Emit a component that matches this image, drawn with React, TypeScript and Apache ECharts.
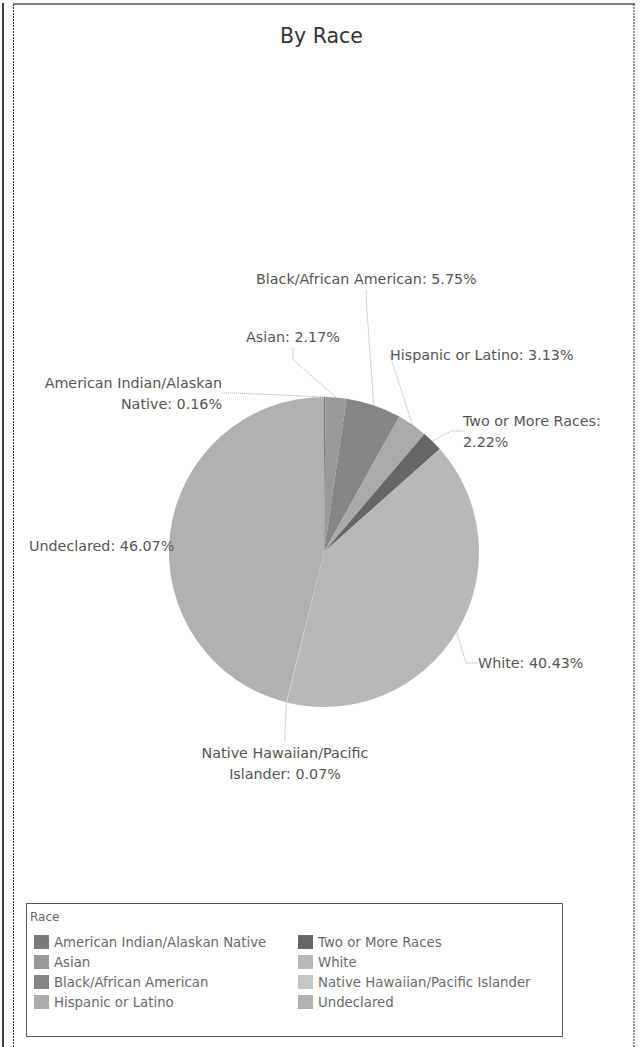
import React, { useEffect, useRef } from "react";
import * as echarts from "echarts";

const categories = [
  "American Indian/Alaskan Native",
  "Asian",
  "Black/African American",
  "Hispanic or Latino",
  "Two or More Races",
  "White",
  "Native Hawaiian/Pacific Islander",
  "Undeclared",
];
const shares = [0.16, 2.17, 5.75, 3.13, 2.22, 40.43, 0.07, 46.07];
const sliceColors = ["#7a7a7a", "#999999", "#858585", "#aaaaaa", "#666666", "#b8b8b8", "#c6c6c6", "#b1b1b1"];
const wrappedNames: Record<string, string> = {
  "American Indian/Alaskan Native": "American Indian/Alaskan\nNative",
  "Two or More Races": "Two or More Races:\n",
  "Native Hawaiian/Pacific Islander": "Native Hawaiian/Pacific\nIslander",
};
const legendCol1 = categories.slice(0, 4);
const legendCol2 = categories.slice(4);

// label placement (layout only)
const labelSpots = [
  { x: 222, y: 393, align: "right" },
  { x: 293, y: 337, align: "center" },
  { x: 256, y: 279, align: "left" },
  { x: 390, y: 355, align: "left" },
  { x: 463, y: 431, align: "left" },
  { x: 478, y: 663, align: "left" },
  { x: 285, y: 763, align: "center" },
  { x: 23, y: 546, align: "left" },
];

const FONT = "'DejaVu Sans', 'Noto Sans', sans-serif";

export default function App() {
  const ref = useRef<HTMLDivElement>(null);
  useEffect(() => {
    document.body.style.margin = "0";
    const chart = echarts.init(ref.current!, null, { renderer: "svg" });
    const data = categories.map((name, i) => {
      const item: any = { name, value: shares[i], itemStyle: { color: sliceColors[i] } };
      if (name === "Undeclared") {
        item.label = { backgroundColor: "#ffffff", padding: [11, 11, 11, 6] };
        item.labelLine = { show: false };
      }
      return item;
    });
    const legendBase = {
      orient: "vertical",
      top: 935,
      padding: 0,
      itemGap: 6,
      itemWidth: 15,
      itemHeight: 14,
      icon: "rect",
      selectedMode: false,
      textStyle: { fontFamily: FONT, fontSize: 13.3, color: "#6a6a6a" },
    };
    chart.setOption({
      animation: false,
      backgroundColor: "#ffffff",
      title: {
        text: "By Race",
        left: "center",
        top: 20,
        textStyle: { fontFamily: FONT, fontSize: 20.5, fontWeight: "normal", color: "#333333" },
      },
      legend: [
        { ...legendBase, data: legendCol1, left: 34 },
        { ...legendBase, data: legendCol2, left: 298 },
      ],
      graphic: [
        { type: "line", shape: { x1: 3, y1: 3, x2: 3, y2: 1047 }, style: { stroke: "#000", lineWidth: 1.5 } },
        { type: "line", shape: { x1: 13.5, y1: 4, x2: 13.5, y2: 1047 }, style: { stroke: "#333", lineWidth: 1, lineDash: [2, 1] } },
        { type: "line", shape: { x1: 13, y1: 4, x2: 635, y2: 4 }, style: { stroke: "#555", lineWidth: 1.5 } },
        { type: "line", shape: { x1: 634, y1: 4, x2: 634, y2: 1047 }, style: { stroke: "#333", lineWidth: 1, lineDash: [2, 1] } },
        { type: "rect", shape: { x: 26.5, y: 903.5, width: 536, height: 133 }, style: { fill: "none", stroke: "#555", lineWidth: 1 } },
        { type: "text", x: 30, y: 917, style: { text: "Race", fontFamily: FONT, fontSize: 12, fill: "#666", verticalAlign: "middle" } },
      ],
      series: [
        {
          type: "pie",
          center: [324, 552],
          radius: 155,
          startAngle: 90,
          clockwise: true,
          data,
          silent: true,
          itemStyle: { borderWidth: 0 },
          label: {
            show: true,
            position: "outer",
            overflow: "none",
            fontFamily: FONT,
            fontSize: 14.3,
            lineHeight: 21,
            color: "#555555",
            formatter: (p: any) => {
              const nm = wrappedNames[p.name] || p.name;
              const sep = nm.endsWith("\n") ? "" : ": ";
              return `${nm}${sep}${p.value.toFixed(2)}%`;
            },
          },
          labelLine: {
            show: true,
            length: 12,
            length2: 12,
            lineStyle: { color: "#aaaaaa", width: 1, type: "dotted" },
          },
          labelLayout: (params: any) => {
            const s = labelSpots[params.dataIndex];
            return { x: s.x, y: s.y, align: s.align, verticalAlign: "middle", hideOverlap: false };
          },
        },
      ],
    });
    return () => chart.dispose();
  }, []);
  return <div ref={ref} style={{ position: "absolute", left: 0, top: 0, width: 643, height: 1047 }} />;
}
